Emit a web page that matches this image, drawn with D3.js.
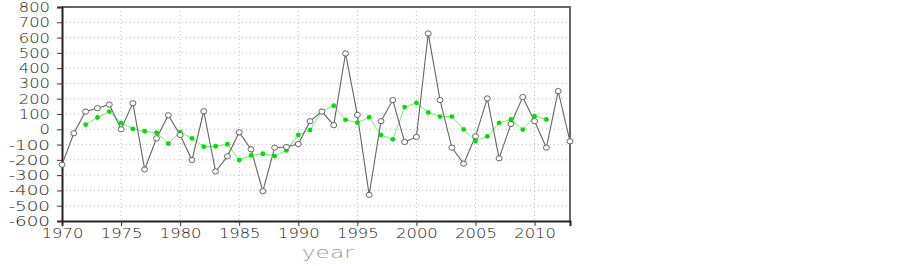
<!DOCTYPE html>
<html>
<head>
<meta charset="utf-8">
<script src="https://cdn.jsdelivr.net/npm/d3@7"></script>
<style>
  body { margin: 0; background: #fff; }
  text { font-family: "DejaVu Sans", sans-serif; }
</style>
</head>
<body>
<script>
// yearly values (black) and 5-year running mean (green)
const years = d3.range(1970, 2014);
const annual = [-232, -26, 116, 138, 162, 0, 171, -263, -59, 92,
  -37, -201, 118, -276, -177, -20, -131, -405, -120, -116,
  -96, 53, 116, 27, 496, 94, -429, 53, 191, -83,
  -50, 627, 191, -120, -225, -46, 202, -190, 35, 211,
  53, -120, 250, -79];
const meanYears = d3.range(1972, 2012);
const runMean = [31, 77, 116, 42, 3, -13, -22, -94, -18, -59,
  -114, -111, -98, -201, -171, -160, -175, -138, -37, -5,
  118, 154, 62, 44, 79, -37, -66, 145, 173, 110,
  83, 83, 0, -77, -46, 42, 64, -2, 86, 64];
const yTicks = d3.range(-600, 801, 100);
const xTicks = d3.range(1970, 2011, 5);

let margin = {top: 7, left: 62, right: 333, bottom: 45};
let width = 903 - margin.left - margin.right;
let height = 266 - margin.top - margin.bottom;

let svg = d3.select("body").append("svg")
  .attr("width", 903)
  .attr("height", 266)
  .append("g")
  .attr("transform", `translate(${margin.left}, ${margin.top})`);

let x = d3.scaleLinear().domain([1970, 2013]).range([0, width]);
let y = d3.scaleLinear().domain([-600, 800]).range([height, 0]);

// grid
svg.append("g").selectAll("line.h")
  .data(yTicks.filter(d => d > -600 && d < 800))
  .enter().append("line")
  .attr("x1", 0).attr("x2", width)
  .attr("y1", d => y(d)).attr("y2", d => y(d))
  .attr("stroke", "#bbb").attr("stroke-width", 1)
  .attr("stroke-dasharray", "1,3");
svg.append("g").selectAll("line.v")
  .data(xTicks.filter(d => d > 1970))
  .enter().append("line")
  .attr("x1", d => x(d)).attr("x2", d => x(d))
  .attr("y1", 0).attr("y2", height)
  .attr("stroke", "#bbb").attr("stroke-width", 1)
  .attr("stroke-dasharray", "1,3");

// frame top / right
svg.append("path")
  .attr("d", `M0,0H${width}V${height}`)
  .attr("fill", "none").attr("stroke", "#666").attr("stroke-width", 2);

// axes
let yAxis = svg.append("g")
  .call(d3.axisLeft(y).tickValues(yTicks).tickSize(5).tickPadding(7).tickFormat(d3.format("d")));
let xAxis = svg.append("g")
  .attr("transform", `translate(0, ${height})`)
  .call(d3.axisBottom(x).tickValues(xTicks).tickSize(5).tickPadding(2).tickFormat(d3.format("d")));

yAxis.selectAll("text").text(d => d < 0 ? "-" + Math.abs(d) : d);

[yAxis, xAxis].forEach(function(a) {
  a.select(".domain").attr("stroke", "#222").attr("stroke-width", 2);
  a.selectAll(".tick line").attr("stroke", "#333");
  a.selectAll("text")
    .attr("font-size", 14)
    .attr("font-weight", 300)
    .attr("fill", "#222")
    .attr("lengthAdjust", "spacingAndGlyphs")
    .attr("textLength", function() { return this.textContent.length * 10.4; })
    .style("font-family", "DejaVu Sans");
});

svg.append("text")
  .attr("x", x(1992.5))
  .attr("y", height + 37)
  .attr("text-anchor", "middle")
  .attr("font-size", 16)
  .attr("font-weight", 300)
  .attr("lengthAdjust", "spacingAndGlyphs")
  .attr("textLength", 52)
  .attr("fill", "#999")
  .text("year");

// annual series
let annualData = years.map((yr, i) => ({yr: yr, v: annual[i]}));
let meanData = meanYears.map((yr, i) => ({yr: yr, v: runMean[i]}));

let line = d3.line().x(d => x(d.yr)).y(d => y(d.v));

svg.append("path")
  .datum(meanData)
  .attr("d", line)
  .attr("fill", "none")
  .attr("stroke", "#6ef06e")
  .attr("stroke-width", 1);

svg.append("path")
  .datum(annualData)
  .attr("d", line)
  .attr("fill", "none")
  .attr("stroke", "#666")
  .attr("stroke-width", 1.1);

svg.selectAll(".mean-dot")
  .data(meanData)
  .enter().append("circle")
  .attr("class", "mean-dot")
  .attr("cx", d => x(d.yr))
  .attr("cy", d => y(d.v))
  .attr("r", 2.4)
  .attr("fill", "#00e000");

svg.selectAll(".ann-dot")
  .data(annualData)
  .enter().append("ellipse")
  .attr("class", "ann-dot")
  .attr("cx", d => x(d.yr))
  .attr("cy", d => y(d.v))
  .attr("rx", 3)
  .attr("ry", 2.6)
  .attr("fill", "#fff")
  .attr("stroke", "#555")
  .attr("stroke-width", 0.9);
</script>
</body>
</html>
